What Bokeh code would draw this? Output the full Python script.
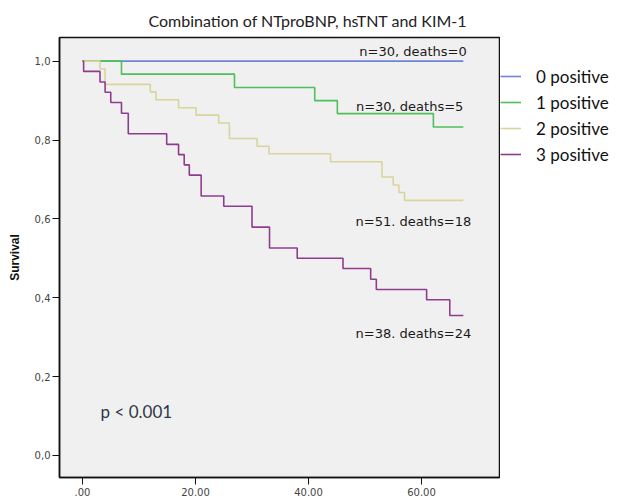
from bokeh.plotting import figure
from bokeh.layouts import row
from bokeh.models import FixedTicker, Legend, LegendItem, Range1d
from bokeh.core.properties import value
from bokeh.embed import file_html
from bokeh.resources import INLINE

# ---- data ----
end_time = 67.4

t0 = []
s0 = []

t1 = [6.9, 26.9, 41.1, 45.1, 62.1]
s1 = [0.967, 0.933, 0.900, 0.867, 0.833]

t2 = [3.1, 4.0, 12.0, 13.0, 17.0, 20.1, 24.1, 26.0, 30.9, 33.0, 43.9, 53.0, 55.0, 56.0, 57.0]
s2 = [0.980, 0.941, 0.922, 0.902, 0.882, 0.863, 0.843, 0.804, 0.784, 0.765, 0.745, 0.706, 0.686, 0.667, 0.647]

t3 = [0.2, 3.1, 4.0, 5.0, 6.9, 8.1, 14.9, 17.0, 18.0, 18.9, 21.0, 25.0, 30.0, 33.1, 38.0, 46.1, 51.0, 52.0, 60.9, 65.0]
s3 = [0.974, 0.947, 0.921, 0.895, 0.868, 0.816, 0.789, 0.763, 0.737, 0.711, 0.658, 0.632, 0.579, 0.526, 0.500, 0.474, 0.447, 0.421, 0.395, 0.355]

group_names = ["0 positive", "1 positive", "2 positive", "3 positive"]
group_colors = ["#6f84d6", "#4cc05a", "#d9d49c", "#8e3d8e"]
annotations = ["n=30, deaths=0", "n=30, deaths=5", "n=51. deaths=18", "n=38. deaths=24"]
annot_x = [68.0, 67.4, 68.8, 68.8]
annot_y = [1.025, 0.885, 0.594, 0.308]

x_ticks = [0, 20, 40, 60]
x_tick_labels = [".00", "20.00", "40.00", "60.00"]
y_ticks = [0.0, 0.2, 0.4, 0.6, 0.8, 1.0]
y_tick_labels = ["0,0", "0,2", "0,4", "0,6", "0,8", "1,0"]

title_text = "Combination of NTproBNP, hsTNT and KIM-1"
p_text = "p < 0.001"

# ---- main figure ----
p = figure(width=500, height=498, output_backend="svg", toolbar_location=None,
           x_range=Range1d(-4.07, 73.8), y_range=Range1d(-0.056, 1.06),
           min_border_left=59, min_border_right=1, min_border_top=37, min_border_bottom=20)

p.background_fill_color = "#f0f0f0"
p.border_fill_color = "white"
p.outline_line_color = "#111111"
p.outline_line_width = 1.5
p.xgrid.visible = False
p.ygrid.visible = False

p.title.text = title_text
p.title.text_font = "Lato"
p.title.text_font_size = "16px"
p.title.text_font_style = "normal"
p.title.text_color = "#222222"
p.title.align = "left"
p.title.offset = 89
p.title.standoff = 15

for ax in (p.xaxis[0], p.yaxis[0]):
    ax.axis_line_color = "#111111"
    ax.axis_line_width = 1.5
    ax.major_tick_line_color = "#111111"
    ax.major_tick_in = 0
    ax.major_tick_out = 7
    ax.minor_tick_line_color = None
    ax.major_label_text_font = "DejaVu Sans"
    ax.major_label_text_font_size = "10px"
    ax.major_label_text_color = "#444444"

p.xaxis.ticker = FixedTicker(ticks=x_ticks)
p.xaxis.major_label_overrides = {t: l for t, l in zip(x_ticks, x_tick_labels)}
p.xaxis.major_label_standoff = 3
p.yaxis.ticker = FixedTicker(ticks=y_ticks)
p.yaxis.major_label_overrides = {t: l for t, l in zip(y_ticks, y_tick_labels)}
p.yaxis.major_label_standoff = 2
p.yaxis.axis_label = "Survival"
p.yaxis.axis_label_text_font = "Liberation Sans"
p.yaxis.axis_label_text_font_size = "12px"
p.yaxis.axis_label_text_font_style = "bold"
p.yaxis.axis_label_text_color = "#111111"
p.yaxis.axis_label_standoff = 10

series_t = [t0, t1, t2, t3]
series_s = [s0, s1, s2, s3]
for ts, ss, col in zip(series_t, series_s, group_colors):
    xs = [0.0] + ts + [end_time]
    ys = [1.0] + ss + [ss[-1] if ss else 1.0]
    p.step(x=xs, y=ys, mode="after", line_color=col, line_width=1.6)

p.text(x=annot_x, y=annot_y, text=annotations, text_align="right", text_baseline="middle",
       text_font=value("DejaVu Sans"), text_font_size="13px", text_color="#1a1a1a")

p.text(x=[3.2], y=[0.111], text=[p_text], text_align="left", text_baseline="middle",
       text_font=value("Lato"), text_font_size="17px", text_color="#2e3846")

# ---- legend panel (separate narrow figure at the right) ----
q = figure(width=121, height=498, output_backend="svg", toolbar_location=None,
           x_axis_type=None, y_axis_type=None, x_range=Range1d(0, 1), y_range=Range1d(0, 1),
           min_border=0, min_border_left=0, min_border_right=0, min_border_top=0, min_border_bottom=0)
q.outline_line_color = None
q.background_fill_color = "white"
q.border_fill_color = "white"
q.xgrid.visible = False
q.ygrid.visible = False

# proxy renderers (lying outside the visible range) that only carry the legend styles
legend_renderers = [q.step(x=[2, 3], y=[2, 2], mode="after", line_color=c, line_width=1.6)
                    for c in group_colors]

legend = Legend(items=[LegendItem(label=n, renderers=[r]) for n, r in zip(group_names, legend_renderers)],
                location=(0, 310))
legend.background_fill_alpha = 0
legend.border_line_alpha = 0
legend.padding = 0
legend.margin = 0
legend.spacing = 0
legend.glyph_width = 21
legend.glyph_height = 20
legend.label_height = 26
legend.label_standoff = 15
legend.label_text_font = "Lato"
legend.label_text_font_size = "17px"
legend.label_text_color = "#111111"
q.add_layout(legend)

layout = row(p, q, spacing=0)
open("out.html", "w").write(file_html(layout, INLINE))
